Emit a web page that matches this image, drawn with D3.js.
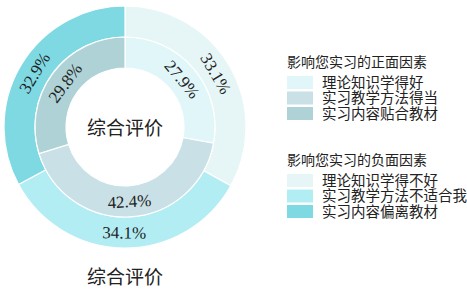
<!DOCTYPE html>
<html>
<head>
<meta charset="utf-8">
<script src="https://cdn.jsdelivr.net/npm/d3@7"></script>
<style>
  body { margin: 0; background: #fff; }
  text { font-family: "Liberation Serif", "Noto Sans CJK SC", serif; fill: #222; }
</style>
</head>
<body>
<svg id="chart" width="467" height="291"></svg>
<script>
const chartTitle = "综合评价";

const positiveTitle = "影响您实习的正面因素";
const positiveLabels = ["理论知识学得好", "实习教学方法得当", "实习内容贴合教材"];
const positiveValues = [27.9, 42.4, 29.8];
const positiveColors = ["#e0f6f8", "#c9e0e6", "#afd2d6"];

const negativeTitle = "影响您实习的负面因素";
const negativeLabels = ["理论知识学得不好", "实习教学方法不适合我", "实习内容偏离教材"];
const negativeValues = [33.1, 34.1, 32.9];
const negativeColors = ["#e6f6f7", "#b3edf4", "#7fd9e2"];

const svg = d3.select("#chart");
const cx = 125, cy = 127;

const pie = d3.pie().sort(null).value(d => d.value);

function drawRing(labels, values, colors, r0, r1) {
  const data = labels.map((label, i) => ({ label, value: values[i], color: colors[i] }));
  const arc = d3.arc().innerRadius(r0).outerRadius(r1);
  const labelArc = d3.arc().innerRadius((r0 + r1) / 2).outerRadius((r0 + r1) / 2);
  const g = svg.append("g").attr("transform", `translate(${cx},${cy})`);

  const arcs = g.selectAll(".arc")
    .data(pie(data))
    .enter()
    .append("g")
    .attr("class", "arc");

  arcs.append("path")
    .attr("d", arc)
    .attr("fill", d => d.data.color)
    .attr("stroke", "#fff")
    .attr("stroke-width", 1.2);

  arcs.append("text")
    .attr("transform", d => {
      const [x, y] = labelArc.centroid(d);
      let a = (d.startAngle + d.endAngle) / 2 * 180 / Math.PI;
      if (a > 90 && a < 270) a -= 180;
      return `translate(${x},${y}) rotate(${a})`;
    })
    .attr("dy", "0.35em")
    .attr("text-anchor", "middle")
    .style("font-size", "17px")
    .text(d => d.data.value.toFixed(1) + "%");
}

drawRing(negativeLabels, negativeValues, negativeColors, 90, 121);
drawRing(positiveLabels, positiveValues, positiveColors, 59, 90);

svg.append("text")
  .attr("x", cx)
  .attr("y", cy + 1)
  .attr("dy", "0.35em")
  .attr("text-anchor", "middle")
  .style("font-size", "19px")
  .text(chartTitle);

svg.append("text")
  .attr("x", cx)
  .attr("y", 277)
  .attr("dy", "0.35em")
  .attr("text-anchor", "middle")
  .style("font-size", "19px")
  .text(chartTitle);

function drawLegend(title, labels, colors, top) {
  const g = svg.append("g").attr("transform", `translate(287,${top})`);
  g.append("text")
    .attr("x", 0)
    .attr("y", 0)
    .attr("dy", "0.35em")
    .style("font-size", "14px")
    .text(title);

  const item = g.selectAll(".legend-item")
    .data(labels)
    .enter()
    .append("g")
    .attr("class", "legend-item")
    .attr("transform", (d, i) => `translate(0, ${14 + i * 15.5})`);

  item.append("rect")
    .attr("width", 26)
    .attr("height", 13)
    .attr("fill", (d, i) => colors[i]);

  item.append("text")
    .attr("x", 35)
    .attr("y", 6.5)
    .attr("dy", "0.35em")
    .style("font-size", "14.5px")
    .text(d => d);
}

drawLegend(positiveTitle, positiveLabels, positiveColors, 62);
drawLegend(negativeTitle, negativeLabels, negativeColors, 160);
</script>
</body>
</html>
